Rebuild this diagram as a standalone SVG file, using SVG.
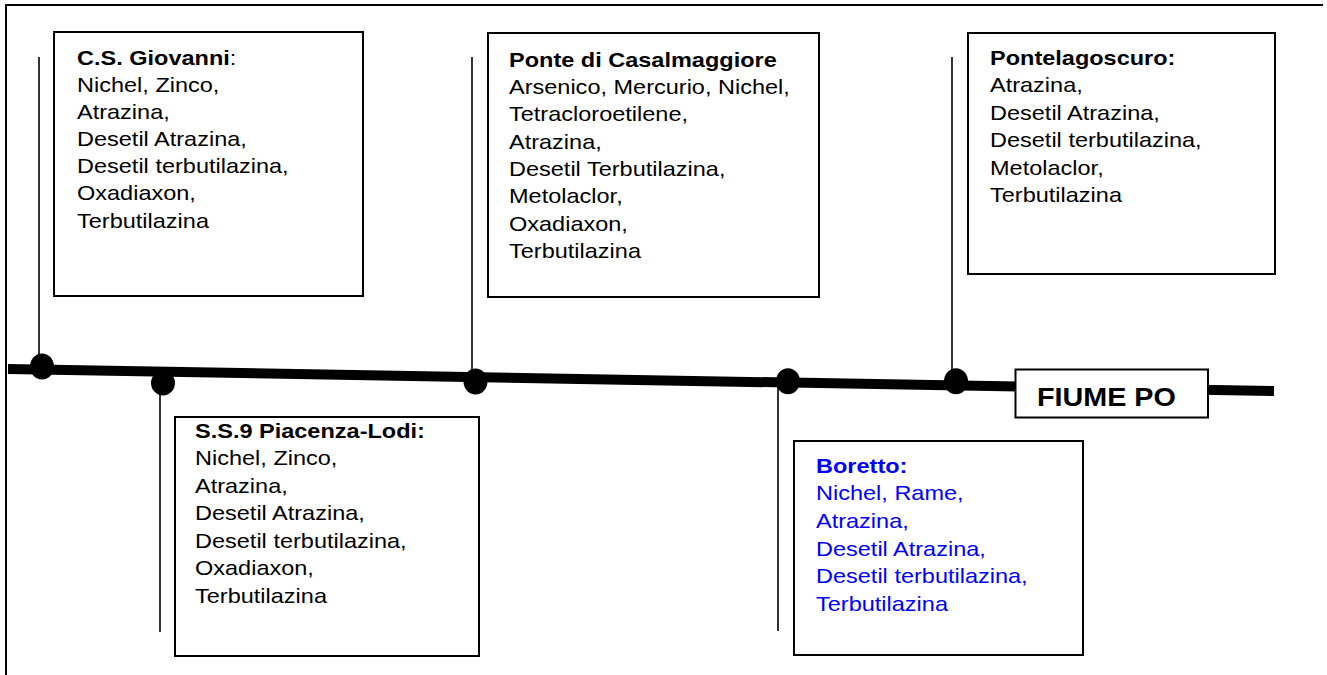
<svg xmlns="http://www.w3.org/2000/svg" width="1327" height="675" viewBox="0 0 1327 675">
<style>
.box{fill:#fff;stroke:#000;stroke-width:2}
.lbl{font-family:"Liberation Sans",Arial,sans-serif;font-size:21px;fill:#000}
.blue{fill:#0000ff}
.b{font-weight:bold}
.stem{stroke:#000;stroke-width:1.6;fill:none}
.dot{fill:#000}
.river{stroke:#000;stroke-width:10;fill:none}
</style>
<rect width="1327" height="675" fill="#fff"/>
<g id="frame">
<path d="M6,675 V5 H1323" fill="none" stroke="#000" stroke-width="2"/>
</g>
<g id="connectors">
<line class="river" x1="8" y1="369" x2="1274" y2="391"/>
<line class="stem" x1="39" y1="57" x2="39" y2="366"/>
<line class="stem" x1="160" y1="382" x2="160" y2="632"/>
<line class="stem" x1="472" y1="57" x2="472" y2="380"/>
<line class="stem" x1="778" y1="381" x2="778" y2="631"/>
<line class="stem" x1="952" y1="57" x2="952" y2="381"/>
<ellipse class="dot" cx="42" cy="366.5" rx="12" ry="13"/>
<ellipse class="dot" cx="163" cy="383" rx="12" ry="12.5"/>
<ellipse class="dot" cx="475.5" cy="381.5" rx="12" ry="13"/>
<ellipse class="dot" cx="788" cy="381.3" rx="12" ry="13"/>
<ellipse class="dot" cx="956" cy="381.3" rx="12" ry="13"/>
</g>
<g id="node-fiume-po">
<rect class="box" x="1015.5" y="369.5" width="192.5" height="48"/>
<text transform="translate(1037,405.7) scale(1.085,1)" style="font-family:'Liberation Sans',Arial,sans-serif;font-size:26.5px;font-weight:bold">FIUME PO</text>
</g>
<g id="node-cs-giovanni">
<rect class="box" x="54" y="32" width="309" height="264"/>
<text class="lbl" transform="translate(77,64.5) scale(1.12,1)">
<tspan x="0" y="0"><tspan class="b">C.S. Giovanni</tspan>:</tspan>
<tspan x="0" y="27.2">Nichel, Zinco,</tspan>
<tspan x="0" y="54.4">Atrazina,</tspan>
<tspan x="0" y="81.6">Desetil Atrazina,</tspan>
<tspan x="0" y="108.8">Desetil terbutilazina,</tspan>
<tspan x="0" y="136">Oxadiaxon,</tspan>
<tspan x="0" y="163.2">Terbutilazina</tspan>
</text>
</g>
<g id="node-casalmaggiore">
<rect class="box" x="488" y="33" width="331" height="264"/>
<text class="lbl" transform="translate(509,66.5) scale(1.12,1)">
<tspan x="0" y="0" class="b">Ponte di Casalmaggiore</tspan>
<tspan x="0" y="27.4">Arsenico, Mercurio, Nichel,</tspan>
<tspan x="0" y="54.8">Tetracloroetilene,</tspan>
<tspan x="0" y="82.2">Atrazina,</tspan>
<tspan x="0" y="109.6">Desetil Terbutilazina,</tspan>
<tspan x="0" y="137">Metolaclor,</tspan>
<tspan x="0" y="164.4">Oxadiaxon,</tspan>
<tspan x="0" y="191.8">Terbutilazina</tspan>
</text>
</g>
<g id="node-pontelagoscuro">
<rect class="box" x="968" y="33" width="307" height="241"/>
<text class="lbl" transform="translate(990,65) scale(1.12,1)">
<tspan x="0" y="0" class="b">Pontelagoscuro:</tspan>
<tspan x="0" y="27.4">Atrazina,</tspan>
<tspan x="0" y="54.8">Desetil Atrazina,</tspan>
<tspan x="0" y="82.2">Desetil terbutilazina,</tspan>
<tspan x="0" y="109.6">Metolaclor,</tspan>
<tspan x="0" y="137">Terbutilazina</tspan>
</text>
</g>
<g id="node-ss9">
<rect class="box" x="175" y="417" width="304" height="239"/>
<text class="lbl" transform="translate(195,437.5) scale(1.12,1)">
<tspan x="0" y="0" class="b">S.S.9 Piacenza-Lodi:</tspan>
<tspan x="0" y="27.6">Nichel, Zinco,</tspan>
<tspan x="0" y="55.2">Atrazina,</tspan>
<tspan x="0" y="82.8">Desetil Atrazina,</tspan>
<tspan x="0" y="110.4">Desetil terbutilazina,</tspan>
<tspan x="0" y="138">Oxadiaxon,</tspan>
<tspan x="0" y="165.6">Terbutilazina</tspan>
</text>
</g>
<g id="node-boretto">
<rect class="box" x="794" y="441" width="289" height="214"/>
<text class="lbl blue" transform="translate(816,472.5) scale(1.12,1)">
<tspan x="0" y="0" class="b">Boretto:</tspan>
<tspan x="0" y="27.7">Nichel, Rame,</tspan>
<tspan x="0" y="55.4">Atrazina,</tspan>
<tspan x="0" y="83.1">Desetil Atrazina,</tspan>
<tspan x="0" y="110.8">Desetil terbutilazina,</tspan>
<tspan x="0" y="138.5">Terbutilazina</tspan>
</text>
</g>
</svg>
